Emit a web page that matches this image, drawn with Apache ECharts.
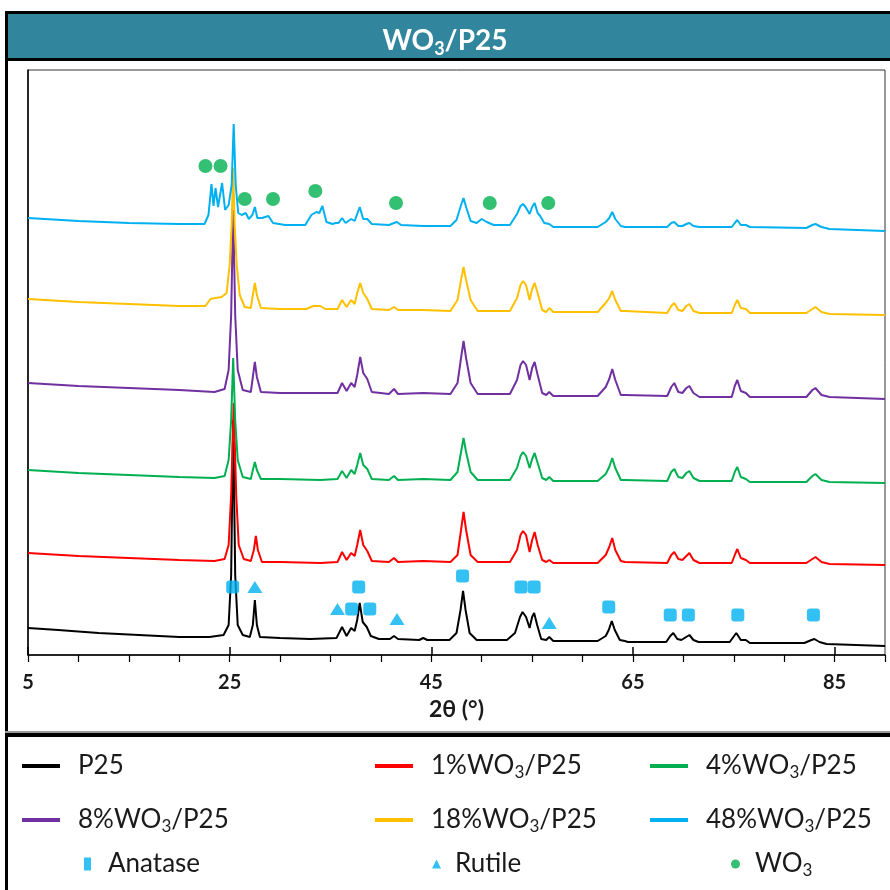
<!DOCTYPE html>
<html>
<head>
<meta charset="utf-8">
<script src="https://cdn.jsdelivr.net/npm/echarts@6/dist/echarts.min.js"></script>
<style>
  html, body { margin: 0; padding: 0; background: #fff; }
  #chart { width: 890px; height: 890px; }
</style>
</head>
<body>
<div id="chart"></div>
<script>
/* -------------------------------------------------------------------------- */
/*                        XRD patterns  WO3 / P25                             */
/* -------------------------------------------------------------------------- */

// [2theta, intensity (a.u., stacked offsets as plotted)]
const p25 = [[5,27],[8,25],[12,22],[16,20],[20,18],[23,18],[24.4,20],[24.9,30],[25.15,80],[25.35,235],[25.55,80],[25.8,30],[26.3,20],[27.0,18],[27.3,30],[27.5,55],[27.7,30],[28.0,18],[30,17],[33,16],[35.6,17],[36.15,28],[36.6,19],[37.05,27],[37.4,24],[37.65,35],[37.9,52],[38.2,33],[38.6,28],[39.0,19],[39.8,16],[40.9,16],[41.3,19],[41.7,16],[43.8,15],[44.2,17],[44.6,15],[46.8,15],[47.5,22],[47.9,45],[48.15,64],[48.4,45],[48.8,22],[49.5,15],[52.5,15],[53.3,22],[53.8,38],[54.05,43],[54.4,38],[54.75,27],[55.0,38],[55.2,42],[55.5,30],[55.9,16],[56.4,15],[56.7,18],[57.1,14],[61.5,14],[62.3,19],[62.6,25],[62.9,34],[63.2,25],[63.7,15],[64.2,14],[64.5,13],[68.3,13],[68.7,19],[69.0,22],[69.4,16],[69.8,15],[70.6,20],[71.0,15],[71.5,13],[74.6,13],[75.25,22],[75.7,15],[76.2,15],[76.6,12],[82.0,12],[82.7,15],[83.0,16],[83.5,13],[84.2,11],[90,9]];

const wo1 = [[5,102],[10,99],[15,97],[20,95],[23.5,94],[24.5,96],[24.9,110],[25.15,160],[25.4,252],[25.65,160],[25.9,110],[26.4,96],[27.1,94],[27.4,105],[27.6,119],[27.8,105],[28.2,93],[30,93],[34,92],[35.7,93],[36.15,103],[36.6,95],[37.05,102],[37.4,99],[37.65,110],[37.95,125],[38.25,110],[38.65,104],[39.1,94],[40.8,93],[41.3,97],[41.7,93],[44.2,94],[46.9,93],[47.6,100],[47.95,125],[48.2,143],[48.45,125],[48.9,100],[49.6,93],[52.8,93],[53.5,105],[53.85,120],[54.1,124],[54.4,120],[54.75,103],[55.0,115],[55.25,123],[55.55,110],[56.0,95],[56.4,93],[56.7,95],[57.1,92],[61.5,92],[62.3,100],[62.65,108],[62.95,117],[63.25,105],[63.8,94],[64.2,93],[68.4,92],[68.8,100],[69.1,103],[69.5,96],[69.9,95],[70.3,99],[70.6,102],[71.0,95],[71.6,92],[74.8,92],[75.1,100],[75.35,106],[75.7,97],[76.2,95],[76.6,92],[82.2,92],[82.8,96],[83.1,98],[83.7,93],[84.5,91],[90,90]];

const wo4 = [[5,185],[10,182],[15,180],[20,178],[23.5,177],[24.5,179],[24.9,195],[25.15,235],[25.35,297],[25.55,235],[25.8,195],[26.3,178],[27.1,176],[27.3,185],[27.5,193],[27.7,185],[28.1,176],[30,176],[34,175],[35.7,176],[36.15,184],[36.6,177],[37.05,185],[37.4,181],[37.65,190],[37.95,202],[38.25,190],[38.65,186],[39.1,176],[40.8,175],[41.3,179],[41.7,175],[44.2,176],[46.9,175],[47.6,183],[47.95,203],[48.2,217],[48.45,203],[48.9,183],[49.6,175],[52.8,175],[53.5,187],[53.85,199],[54.1,203],[54.4,199],[54.75,187],[55.0,196],[55.25,202],[55.55,192],[56.0,177],[56.4,175],[56.7,178],[57.1,174],[61.5,174],[62.3,181],[62.65,188],[62.95,197],[63.25,187],[63.8,175],[64.2,175],[68.4,174],[68.8,183],[69.1,186],[69.5,178],[69.9,177],[70.3,182],[70.6,184],[71.0,177],[71.6,174],[74.8,174],[75.1,183],[75.35,188],[75.7,178],[76.2,176],[76.6,173],[82.2,173],[82.8,179],[83.1,181],[83.7,175],[84.5,173],[90,172]];

const wo8 = [[5,272],[10,269],[15,267],[20,265],[23.5,263],[24.5,266],[24.9,285],[25.15,340],[25.35,445],[25.55,340],[25.8,285],[26.3,265],[27.1,263],[27.3,278],[27.5,293],[27.7,278],[28.1,263],[30,262],[34,262],[35.7,262],[36.15,272],[36.6,264],[37.05,272],[37.4,268],[37.65,280],[37.95,298],[38.25,282],[38.65,276],[39.1,263],[40.8,261],[41.3,266],[41.7,261],[44.2,262],[46.9,261],[47.6,272],[47.95,297],[48.2,314],[48.45,297],[48.9,272],[49.6,261],[52.8,261],[53.5,275],[53.85,290],[54.1,294],[54.4,290],[54.75,275],[55.0,287],[55.25,293],[55.55,280],[56.0,262],[56.4,260],[56.7,263],[57.1,259],[61.5,259],[62.3,268],[62.65,276],[62.95,286],[63.25,275],[63.8,260],[64.2,260],[68.4,259],[68.8,268],[69.1,272],[69.5,263],[69.9,262],[70.3,267],[70.6,269],[71.0,262],[71.6,258],[74.8,258],[75.1,269],[75.35,275],[75.7,264],[76.2,262],[76.6,258],[82.2,258],[82.8,265],[83.1,267],[83.7,260],[84.5,258],[90,256]];

const wo18 = [[5,356],[10,353],[15,351],[20,349],[22.6,349],[23.1,356],[23.6,357],[24.2,358],[24.7,362],[25.0,390],[25.2,430],[25.35,487],[25.5,430],[25.7,390],[26.0,360],[26.5,348],[27.1,347],[27.3,360],[27.5,372],[27.7,360],[28.1,347],[30,346],[32.6,346],[33.3,349],[34.0,349],[34.5,346],[35.7,346],[36.15,355],[36.6,348],[37.05,355],[37.4,351],[37.65,362],[37.95,372],[38.25,362],[38.65,356],[39.1,346],[40.8,345],[41.3,348],[41.7,345],[44.2,345],[46.9,344],[47.6,355],[47.95,375],[48.2,388],[48.45,375],[48.9,355],[49.6,344],[52.8,344],[53.5,357],[53.85,370],[54.1,374],[54.4,370],[54.75,355],[55.0,366],[55.25,372],[55.55,362],[56.0,345],[56.4,343],[56.7,347],[57.1,343],[61.5,343],[62.3,352],[62.65,357],[62.95,364],[63.25,355],[63.8,344],[64.2,344],[68.4,342],[68.8,349],[69.1,352],[69.5,345],[69.9,344],[70.3,349],[70.6,351],[71.0,344],[71.6,342],[74.8,342],[75.1,350],[75.35,355],[75.7,347],[76.2,346],[76.6,342],[82.2,342],[82.8,346],[83.1,348],[83.7,343],[84.5,341],[90,340]];

const wo48 = [[5,437],[10,434],[15,432],[20,431],[22.5,431],[22.9,440],[23.2,471],[23.4,449],[23.6,467],[23.85,448],[24.25,472],[24.55,445],[24.9,450],[25.2,470],[25.4,531],[25.6,470],[25.85,442],[26.2,440],[26.6,442],[26.9,436],[27.25,440],[27.5,448],[27.75,437],[28.2,437],[28.85,439],[29.3,432],[30.5,430],[32.5,430],[33.1,440],[33.6,443],[33.9,442],[34.2,449],[34.6,433],[35.2,431],[35.5,432],[35.8,432],[36.15,437],[36.5,432],[37.05,436],[37.4,434],[37.9,448],[38.25,436],[38.65,436],[39.1,431],[40.8,430],[41.3,432],[41.6,433],[42.0,430],[44.2,429],[46.9,429],[47.5,435],[47.95,450],[48.2,457],[48.45,448],[48.9,434],[49.5,432],[50.0,436],[50.5,433],[51.2,430],[52.8,430],[53.5,441],[53.85,449],[54.1,451],[54.35,448],[54.75,441],[55.0,448],[55.25,452],[55.55,442],[55.8,439],[56.2,432],[56.7,431],[57.1,428],[61.5,428],[62.3,433],[62.65,437],[62.95,443],[63.25,436],[63.8,429],[64.2,428],[68.4,428],[68.8,432],[69.1,433],[69.5,429],[69.9,429],[70.3,431],[70.6,432],[71.0,429],[71.6,428],[74.8,428],[75.1,432],[75.35,435],[75.7,430],[76.2,430],[76.6,428],[82.2,427],[82.8,430],[83.1,431],[83.7,428],[84.5,426],[90,424]];

// phase markers
const anatase = [[25.3,68],[37.8,68],[37.1,46],[38.9,46],[48.1,79],[53.9,68],[55.2,68],[62.6,48],[68.7,40],[70.5,40],[75.4,40],[82.9,40]];
const rutile = [[27.5,68],[35.7,46],[41.6,36],[56.7,32]];
const wo3Marks = [[22.6,489],[24.1,489],[26.5,456],[29.3,456],[33.5,464],[41.5,452],[50.8,452],[56.6,452]];

// axis ticks
const majorTicks = [5, 25, 45, 65, 85];
const minorTicks = [5, 10, 15, 20, 25, 30, 35, 40, 45, 50, 55, 60, 65, 70, 75, 80, 85, 90];

const FONT = 'Lato';
const TEXT = '#1a1a1a';

const traces = [
  { name: 'P25', data: p25, color: '#000000' },
  { name: '1%WO3/P25', data: wo1, color: '#FF0000' },
  { name: '4%WO3/P25', data: wo4, color: '#00B050' },
  { name: '8%WO3/P25', data: wo8, color: '#7030A0' },
  { name: '18%WO3/P25', data: wo18, color: '#FFC000' },
  { name: '48%WO3/P25', data: wo48, color: '#00B0F0' }
];

const subFormatter = name => {
  const i = name.indexOf('WO3');
  if (i < 0) return '{a|' + name + '}';
  return '{a|' + name.slice(0, i + 2) + '}{s|3}{a|' + name.slice(i + 3) + '}';
};

const legendRich = {
  a: { fontFamily: FONT, fontSize: 26, lineHeight: 30, color: TEXT },
  s: { fontFamily: FONT, fontSize: 17, lineHeight: 12, verticalAlign: 'bottom', color: TEXT }
};

const legendItem = (name, left, top, opts) => ({
  data: [name],
  left: left,
  top: top,
  padding: 0,
  itemWidth: opts.w,
  itemHeight: opts.h,
  icon: opts.icon,
  selectedMode: false,
  formatter: subFormatter,
  textStyle: { padding: [0, 0, 0, opts.gap], rich: legendRich }
});

const lineIcon = { w: 38, h: 4, icon: 'rect', gap: 13 };

const chart = echarts.init(document.getElementById('chart'));

chart.setOption({
  animation: false,
  backgroundColor: '#ffffff',
  title: {
    text: '{a|WO}{s|3}{a|/P25}',
    left: 'center',
    top: 19,
    textStyle: {
      rich: {
        a: { fontFamily: FONT, fontSize: 28, fontWeight: 'bold', lineHeight: 34, color: '#ffffff' },
        s: { fontFamily: FONT, fontSize: 18, fontWeight: 'bold', lineHeight: 12, verticalAlign: 'bottom', color: '#ffffff' }
      }
    }
  },
  graphic: [
    { type: 'rect', z: -1, shape: { x: 6, y: 12, width: 900, height: 49 }, style: { fill: '#31859C' } },
    { type: 'rect', shape: { x: 5, y: 11, width: 900, height: 3 }, style: { fill: '#000' } },
    { type: 'rect', shape: { x: 5, y: 11, width: 3, height: 890 }, style: { fill: '#000' } },
    { type: 'rect', shape: { x: 5, y: 58, width: 900, height: 3 }, style: { fill: '#000' } },
    { type: 'rect', shape: { x: 5, y: 731, width: 900, height: 2 }, style: { fill: '#9a9a9a' } },
    { type: 'rect', shape: { x: 5, y: 733, width: 900, height: 4 }, style: { fill: '#000' } }
  ],
  legend: [
    legendItem('P25', 22, 753, lineIcon),
    legendItem('1%WO3/P25', 375, 753, lineIcon),
    legendItem('4%WO3/P25', 650, 753, lineIcon),
    legendItem('8%WO3/P25', 22, 807, lineIcon),
    legendItem('18%WO3/P25', 375, 807, lineIcon),
    legendItem('48%WO3/P25', 650, 807, lineIcon),
    legendItem('Anatase', 84, 851, { w: 7, h: 13, icon: 'rect', gap: 12 }),
    legendItem('Rutile', 432, 851, { w: 9, h: 9, icon: 'triangle', gap: 9 }),
    legendItem('WO3', 731, 851, { w: 9, h: 11, icon: 'circle', gap: 10 })
  ],
  grid: {
    left: 28,
    right: 5,
    top: 70,
    bottom: 235,
    show: true,
    borderColor: '#333',
    borderWidth: 1
  },
  xAxis: [
    {
      type: 'value',
      min: 5,
      max: 90,
      name: '2θ (°)',
      nameLocation: 'middle',
      nameGap: 43,
      nameTextStyle: { fontFamily: FONT, fontSize: 23, fontWeight: 'bold', color: TEXT },
      axisLine: { show: true, lineStyle: { color: '#000', width: 1.5 } },
      axisTick: { show: true, inside: true, length: 8, customValues: majorTicks, lineStyle: { color: '#000', width: 1.5 } },
      axisLabel: {
        customValues: majorTicks,
        margin: 18,
        fontFamily: FONT,
        fontSize: 20,
        fontWeight: 'bold',
        color: TEXT
      },
      splitLine: { show: false }
    },
    {
      type: 'value',
      min: 5,
      max: 90,
      position: 'bottom',
      axisLine: { show: false },
      axisTick: { show: true, inside: false, length: 7, customValues: minorTicks, lineStyle: { color: '#000', width: 1.2 } },
      axisLabel: { show: false },
      splitLine: { show: false }
    }
  ],
  yAxis: {
    type: 'value',
    min: 0,
    max: 585,
    axisLine: { show: true, lineStyle: { color: '#000', width: 1.5 } },
    axisTick: { show: false },
    axisLabel: { show: false },
    splitLine: { show: false }
  },
  series: [
    ...traces.map(t => ({
      name: t.name,
      type: 'line',
      data: t.data,
      showSymbol: false,
      symbol: 'none',
      color: t.color,
      lineStyle: { color: t.color, width: 2 }
    })),
    {
      name: 'Anatase',
      type: 'scatter',
      data: anatase,
      symbol: 'roundRect',
      symbolSize: 13,
      itemStyle: { color: '#00B0F0' },
      z: 5
    },
    {
      name: 'Rutile',
      type: 'scatter',
      data: rutile,
      symbol: 'triangle',
      symbolSize: [15, 12],
      itemStyle: { color: '#00B0F0' },
      z: 5
    },
    {
      name: 'WO3',
      type: 'scatter',
      data: wo3Marks,
      symbol: 'circle',
      symbolSize: 14,
      itemStyle: { color: '#00B050' },
      z: 5
    }
  ]
});
</script>
</body>
</html>
